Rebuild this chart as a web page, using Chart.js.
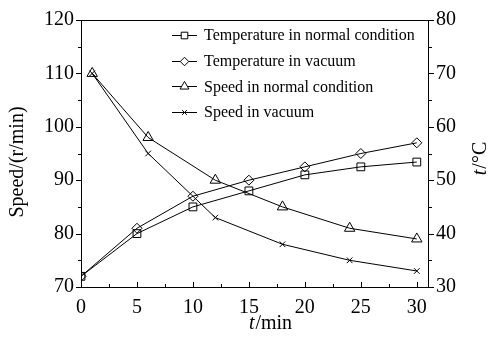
<!DOCTYPE html>
<html>
<head>
<meta charset="utf-8">
<script src="https://cdn.jsdelivr.net/npm/chart.js@4.4.0/dist/chart.umd.min.js"></script>
<style>
  html, body { margin: 0; padding: 0; background: #fff; }
  #wrap { width: 489px; height: 339px; }
</style>
</head>
<body>
<div id="wrap"><canvas id="chart" width="489" height="339"></canvas></div>
<script>
// Data
const tempTimes = [0, 5, 10, 15, 20, 25, 30];
const tempNormal = [32, 40, 45, 48, 51, 52.5, 53.4];
const tempVacuum = [32, 41, 47, 50, 52.5, 55, 57];
const speedTimes = [1, 6, 12, 18, 24, 30];
const speedNormal = [110, 98, 90, 85, 81, 79];
const speedVacuum = [110, 95, 83, 78, 75, 73];

const xTicks = [0, 5, 10, 15, 20, 25, 30];
const speedTicks = [70, 80, 90, 100, 110, 120];
const tempTicks = [30, 40, 50, 60, 70, 80];

const FONT = '"Liberation Serif", "Times New Roman", serif';

const pairs = (xs, ys) => xs.map((x, i) => ({ x: x, y: ys[i] }));

function series(label, xs, ys, style, radius, axis) {
    return {
        label: label,
        data: pairs(xs, ys),
        yAxisID: axis,
        borderColor: '#000',
        borderWidth: 1,
        backgroundColor: '#fff',
        pointStyle: style,
        pointRadius: radius,
        pointBorderWidth: 1,
        pointBackgroundColor: 'rgba(255,255,255,0)',
        pointBorderColor: '#000',
        tension: 0,
        fill: false
    };
}

// ticks, frame, legend and axis titles
const decor = {
    id: 'decor',
    afterDraw(chart) {
        const { ctx, chartArea: a, scales } = chart;
        ctx.save();
        ctx.strokeStyle = '#000';
        ctx.lineWidth = 1;
        ctx.strokeRect(a.left + 0.5, a.top + 0.5, a.right - a.left, a.bottom - a.top);

        ctx.beginPath();
        // x ticks point inward
        for (let v = 0; v <= 30; v += 2.5) {
            const px = Math.round(scales.x.getPixelForValue(v)) + 0.5;
            const len = v % 5 === 0 ? 5 : 3;
            ctx.moveTo(px, a.bottom);
            ctx.lineTo(px, a.bottom - len);
        }
        // left ticks point outward
        for (let v = 70; v <= 120; v += 5) {
            const py = Math.round(scales.y.getPixelForValue(v)) + 0.5;
            const len = v % 10 === 0 ? 5 : 3;
            ctx.moveTo(a.left, py);
            ctx.lineTo(a.left - len, py);
        }
        // right ticks point outward
        for (let v = 30; v <= 80; v += 5) {
            const py = Math.round(scales.y2.getPixelForValue(v)) + 0.5;
            const len = v % 10 === 0 ? 5 : 3;
            ctx.moveTo(a.right + 1, py);
            ctx.lineTo(a.right + 1 + len, py);
        }
        ctx.stroke();

        // legend
        ctx.font = '16px ' + FONT;
        ctx.textBaseline = 'middle';
        chart.data.datasets.forEach((ds, i) => {
            const y = 35 + i * 25.7;
            ctx.beginPath();
            ctx.moveTo(172, Math.round(y) + 0.5);
            ctx.lineTo(197, Math.round(y) + 0.5);
            ctx.stroke();
            ctx.fillStyle = '#fff';
            Chart.helpers.drawPoint(ctx, {
                pointStyle: ds.pointStyle,
                radius: ds.pointRadius * 0.85,
                borderWidth: 1,
                rotation: 0
            }, 184.5, Math.round(y) + 0.5);
            ctx.fillStyle = '#000';
            ctx.fillText(ds.label, 204, y + 1);
        });

        // axis titles
        ctx.font = '20px ' + FONT;
        ctx.fillStyle = '#000';
        ctx.textBaseline = 'middle';
        ctx.textAlign = 'center';
        ctx.save();
        ctx.translate(18, 162);
        ctx.rotate(-Math.PI / 2);
        ctx.fillText('Speed/(r/min)', 0, 0);
        ctx.restore();

        mixed(ctx, 'italic 20px ' + FONT, 't', '20px ' + FONT, '/min', 270, 324, false);
        mixed(ctx, 'italic 20px ' + FONT, 't', '20px ' + FONT, '/°C', 481, 159, true);
        ctx.restore();
    }
};

function mixed(ctx, f1, s1, f2, s2, cx, cy, rotate) {
    ctx.save();
    ctx.translate(cx, cy);
    if (rotate) ctx.rotate(-Math.PI / 2);
    ctx.textAlign = 'left';
    ctx.textBaseline = 'middle';
    ctx.fillStyle = '#000';
    ctx.font = f1;
    const w1 = ctx.measureText(s1).width;
    ctx.font = f2;
    const w2 = ctx.measureText(s2).width;
    const x0 = -(w1 + w2) / 2;
    ctx.font = f1;
    ctx.fillText(s1, x0, 0);
    ctx.font = f2;
    ctx.fillText(s2, x0 + w1 + 1, 0);
    ctx.restore();
}

new Chart(document.getElementById('chart'), {
    type: 'line',
    data: {
        datasets: [
            series('Temperature in normal condition', tempTimes, tempNormal, 'rect', 5.5, 'y2'),
            series('Temperature in vacuum', tempTimes, tempVacuum, 'rectRot', 5, 'y2'),
            series('Speed in normal condition', speedTimes, speedNormal, 'triangle', 6, 'y'),
            series('Speed in vacuum', speedTimes, speedVacuum, 'crossRot', 4, 'y')
        ]
    },
    options: {
        responsive: false,
        animation: false,
        layout: { padding: { top: 18, left: 0, right: 0, bottom: 0 } },
        plugins: { legend: { display: false }, tooltip: { enabled: false } },
        scales: {
            x: {
                type: 'linear',
                min: 0,
                max: 31,
                afterBuildTicks: (s) => { s.ticks = xTicks.map(v => ({ value: v })); },
                afterFit: (s) => { s.height = 52; },
                grid: { display: false, drawTicks: false },
                border: { display: false },
                ticks: { color: '#000', padding: 9, maxRotation: 0, font: { family: FONT, size: 20 } }
            },
            y: {
                position: 'left',
                min: 70,
                max: 120,
                afterBuildTicks: (s) => { s.ticks = speedTicks.map(v => ({ value: v })); },
                afterFit: (s) => { s.width = 81; },
                grid: { display: false, drawTicks: false },
                border: { display: false },
                ticks: { color: '#000', padding: 7, font: { family: FONT, size: 20 } }
            },
            y2: {
                position: 'right',
                min: 30,
                max: 80,
                afterBuildTicks: (s) => { s.ticks = tempTicks.map(v => ({ value: v })); },
                afterFit: (s) => { s.width = 61; },
                grid: { display: false, drawTicks: false },
                border: { display: false },
                ticks: { color: '#000', padding: 8, font: { family: FONT, size: 20 } }
            }
        }
    },
    plugins: [decor]
});
</script>
</body>
</html>
